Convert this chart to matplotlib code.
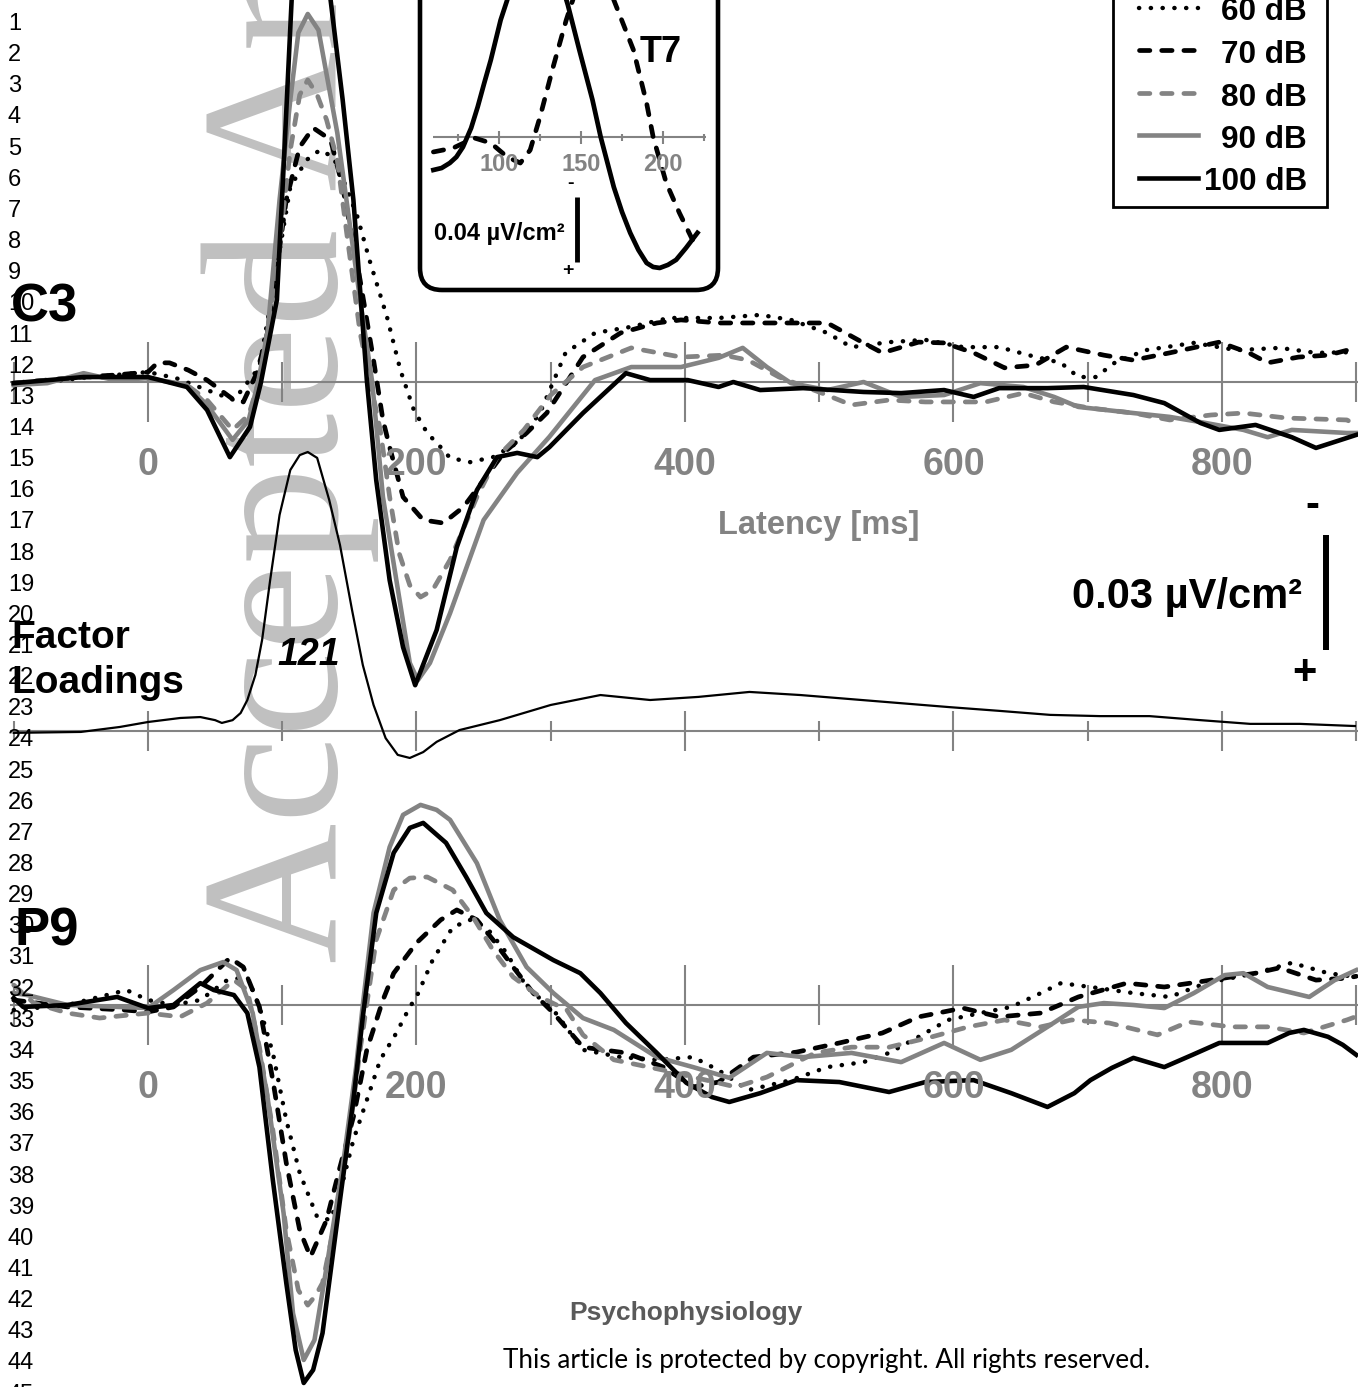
import matplotlib
matplotlib.use("Agg")
import matplotlib.pyplot as plt
from matplotlib import font_manager
from matplotlib.patches import FancyBboxPatch, Rectangle

# ---------------- data (CSD amplitudes in uV/cm^2, latency in ms) ----------------
conditions = ["60 dB", "70 dB", "80 dB", "90 dB", "100 dB"]

c3_t_60 = [-100, -50, 0, 21, 44, 64, 83, 96, 106, 118, 128, 138, 147, 156, 165, 178, 188, 198, 208, 218,
           225, 240, 257, 275, 292, 311, 333, 360, 388, 425, 456, 479, 506, 524, 552, 579, 607, 634, 656,
           680, 693, 706, 720, 743, 779, 811, 843, 870, 900]
c3_v_60 = [0.0008, -0.0010, -0.0026, -0.0010, 0.0021, 0.0047, -0.0039, -0.0300, -0.0509, -0.0579, -0.0605,
           -0.0587, -0.0514, -0.0431, -0.0318, -0.0170, -0.0031, 0.0073, 0.0133, 0.0170, 0.0198, 0.0209,
           0.0196, 0.0159, 0.0081, -0.0076, -0.0128, -0.0144, -0.0167, -0.0167, -0.0175, -0.0162, -0.0128,
           -0.0091, -0.0104, -0.0110, -0.0091, -0.0091, -0.0070, -0.0050, -0.0013, -0.0013, -0.0050,
           -0.0083, -0.0102, -0.0083, -0.0089, -0.0076, -0.0078]

c3_t_70 = [-100, -50, -25, 0, 7, 16, 30, 44, 64, 71, 81, 89, 96, 103, 113, 123, 136, 145, 158, 168, 175,
           180, 190, 205, 220, 235, 250, 265, 282, 297, 324, 352, 379, 397, 425, 447, 479, 506, 533, 547,
           574, 593, 615, 638, 661, 684, 712, 734, 761, 798, 820, 834, 857, 879, 900]
c3_v_70 = [0.0003, -0.0013, -0.0018, -0.0026, -0.0050, -0.0050, -0.0031, -0.0005, 0.0047, 0.0052, -0.0023,
           -0.0128, -0.0300, -0.0475, -0.0613, -0.0663, -0.0632, -0.0509, -0.0266, -0.0057, 0.0099, 0.0170,
           0.0300, 0.0360, 0.0368, 0.0326, 0.0256, 0.0185, 0.0133, 0.0081, -0.0065, -0.0128, -0.0154,
           -0.0162, -0.0154, -0.0154, -0.0154, -0.0154, -0.0102, -0.0076, -0.0104, -0.0102, -0.0076,
           -0.0037, -0.0044, -0.0091, -0.0070, -0.0057, -0.0076, -0.0104, -0.0076, -0.0050, -0.0065,
           -0.0070, -0.0089]

c3_t_80 = [-100, -50, 0, 29, 44, 63, 75, 84, 96, 106, 113, 119, 126, 133, 141, 148, 158, 166, 173, 180,
           187, 195, 203, 212, 225, 245, 260, 280, 300, 324, 360, 397, 429, 447, 470, 502, 524, 552, 579,
           624, 652, 675, 702, 734, 761, 792, 816, 848, 893, 900]
c3_v_80 = [0.0003, -0.0013, -0.0010, 0.0008, 0.0047, 0.0125, 0.0086, -0.0018, -0.0300, -0.0605, -0.0749,
           -0.0788, -0.0749, -0.0684, -0.0579, -0.0389, -0.0128, 0.0008, 0.0125, 0.0300, 0.0446, 0.0530,
           0.0561, 0.0543, 0.0464, 0.0300, 0.0196, 0.0125, 0.0034, -0.0039, -0.0089, -0.0065, -0.0070,
           -0.0057, -0.0013, 0.0029, 0.0060, 0.0047, 0.0052, 0.0052, 0.0029, 0.0052, 0.0068, 0.0081,
           0.0099, 0.0086, 0.0081, 0.0094, 0.0099, 0.0112]

c3_t_90 = [-100, -75, -48, -25, 0, 29, 44, 63, 75, 82, 89, 98, 106, 112, 119, 127, 141, 158, 167, 175,
           185, 195, 201, 210, 225, 250, 275, 299, 333, 360, 397, 425, 443, 461, 479, 506, 533, 561, 593,
           620, 652, 675, 693, 734, 761, 788, 816, 834, 852, 893, 900]
c3_v_90 = [0.0008, 0.0003, -0.0023, -0.0005, -0.0010, 0.0008, 0.0060, 0.0151, 0.0099, 0.0000, -0.0128,
           -0.0475, -0.0736, -0.0911, -0.0960, -0.0918, -0.0650, -0.0214, 0.0000, 0.0300, 0.0517, 0.0733,
           0.0778, 0.0733, 0.0603, 0.0360, 0.0237, 0.0143, -0.0005, -0.0039, -0.0039, -0.0063, -0.0089,
           -0.0039, 0.0003, 0.0021, 0.0000, 0.0039, 0.0034, 0.0003, 0.0013, 0.0039, 0.0065, 0.0081,
           0.0091, 0.0107, 0.0125, 0.0144, 0.0125, 0.0133, 0.0133]

c3_t_100 = [-100, -48, 0, 29, 44, 61, 76, 84, 96, 101, 107, 113, 121, 129, 136, 145, 153, 163, 170, 180,
            190, 199, 215, 230, 245, 260, 275, 290, 299, 324, 356, 374, 402, 425, 436, 456, 488, 533, 561,
            593, 615, 634, 670, 697, 734, 757, 784, 798, 825, 852, 870, 893, 900]
c3_v_100 = [0.0003, -0.0013, -0.0013, 0.0013, 0.0073, 0.0196, 0.0117, 0.0003, -0.0214, -0.0560, -0.0997,
            -0.1120, -0.1160, -0.1120, -0.0997, -0.0736, -0.0475, -0.0005, 0.0256, 0.0517, 0.0692, 0.0791,
            0.0647, 0.0431, 0.0282, 0.0196, 0.0185, 0.0196, 0.0170, 0.0081, -0.0023, -0.0005, -0.0005,
            0.0013, 0.0000, 0.0021, 0.0016, 0.0026, 0.0029, 0.0021, 0.0039, 0.0016, 0.0016, 0.0013,
            0.0034, 0.0055, 0.0107, 0.0125, 0.0112, 0.0144, 0.0172, 0.0146, 0.0138]

# PCA factor loadings of the 121 ms component
fl_t = [-100, -50, -21, 0, 24, 39, 50, 55, 63, 69, 74, 80, 85, 91, 98, 106, 113, 119, 126, 135, 143, 152,
        160, 168, 177, 186, 195, 205, 215, 232, 262, 300, 337, 374, 410, 448, 486, 523, 560, 597, 634, 672,
        709, 746, 784, 821, 858, 899]
fl_v = [-0.006, -0.003, 0.013, 0.029, 0.042, 0.045, 0.035, 0.026, 0.035, 0.058, 0.100, 0.181, 0.294, 0.487,
        0.697, 0.842, 0.890, 0.900, 0.881, 0.745, 0.600, 0.390, 0.213, 0.084, -0.023, -0.077, -0.087,
        -0.068, -0.035, 0.003, 0.035, 0.084, 0.116, 0.100, 0.110, 0.126, 0.116, 0.103, 0.090, 0.077, 0.065,
        0.052, 0.048, 0.048, 0.035, 0.023, 0.023, 0.016]

p9_t_60 = [-100, -60, -16, 0, 19, 39, 59, 74, 83, 93, 103, 113, 126, 136, 143, 153, 163, 173, 185, 195,
           200, 212, 227, 240, 252, 267, 282, 302, 324, 352, 379, 406, 425, 447, 479, 506, 533, 552, 574,
           596, 620, 643, 665, 680, 702, 734, 761, 788, 825, 852, 879, 900]
p9_v_60 = [0.0013, 0.0000, -0.0039, -0.0013, 0.0000, -0.0013, -0.0065, -0.0073, 0.0005, 0.0125, 0.0300,
           0.0438, 0.0553, 0.0561, 0.0490, 0.0352, 0.0248, 0.0143, 0.0073, 0.0005, -0.0021, -0.0117,
           -0.0203, -0.0222, -0.0203, -0.0136, -0.0047, 0.0013, 0.0117, 0.0136, 0.0143, 0.0136, 0.0170,
           0.0222, 0.0196, 0.0162, 0.0149, 0.0125, 0.0083, 0.0039, 0.0021, 0.0005, -0.0031, -0.0057,
           -0.0047, -0.0031, -0.0021, -0.0057, -0.0083, -0.0110, -0.0083, -0.0073]

p9_t_70 = [-100, -60, -18, 0, 19, 39, 61, 71, 83, 93, 103, 113, 121, 133, 143, 153, 163, 175, 183, 200,
           218, 230, 245, 257, 272, 287, 302, 324, 356, 384, 406, 425, 451, 483, 515, 547, 574, 607, 634,
           665, 693, 729, 757, 792, 825, 843, 870, 893, 900]
p9_v_70 = [-0.0013, 0.0005, 0.0013, 0.0018, 0.0005, -0.0047, -0.0123, -0.0099, 0.0005, 0.0196, 0.0412,
           0.0587, 0.0657, 0.0561, 0.0423, 0.0292, 0.0117, -0.0013, -0.0083, -0.0162, -0.0222, -0.0248,
           -0.0222, -0.0170, -0.0099, -0.0031, 0.0021, 0.0110, 0.0125, 0.0162, 0.0214, 0.0201, 0.0136,
           0.0123, 0.0099, 0.0073, 0.0031, 0.0008, 0.0031, 0.0021, -0.0021, -0.0057, -0.0047, -0.0065,
           -0.0083, -0.0097, -0.0065, -0.0070, -0.0075]

p9_t_80 = [-100, -85, -60, -36, 0, 24, 44, 64, 74, 83, 93, 103, 112, 119, 125, 130, 140, 150, 158, 170,
           183, 195, 208, 227, 242, 257, 272, 292, 312, 324, 347, 384, 406, 438, 461, 497, 524, 552, 584,
           611, 638, 665, 688, 716, 752, 775, 807, 834, 861, 893, 900]
p9_v_80 = [-0.0052, -0.0005, 0.0021, 0.0034, 0.0021, 0.0031, -0.0005, -0.0065, -0.0039, 0.0110, 0.0326,
           0.0587, 0.0744, 0.0783, 0.0757, 0.0725, 0.0553, 0.0334, 0.0117, -0.0170, -0.0300, -0.0331,
           -0.0334, -0.0300, -0.0230, -0.0143, -0.0073, -0.0021, 0.0013, 0.0078, 0.0143, 0.0170, 0.0188,
           0.0214, 0.0188, 0.0125, 0.0110, 0.0110, 0.0083, 0.0057, 0.0039, 0.0057, 0.0039, 0.0047, 0.0078,
           0.0044, 0.0057, 0.0057, 0.0073, 0.0039, 0.0030]

p9_t_90 = [-100, -90, -60, 0, 19, 39, 56, 66, 78, 89, 101, 108, 116, 124, 133, 145, 155, 160, 168, 180,
           190, 203, 215, 225, 245, 262, 282, 302, 324, 347, 379, 406, 433, 461, 488, 524, 561, 593, 620,
           643, 670, 693, 712, 734, 757, 779, 802, 816, 834, 865, 884, 900]
p9_v_90 = [-0.0031, -0.0026, 0.0000, 0.0008, -0.0039, -0.0091, -0.0112, -0.0091, 0.0021, 0.0240, 0.0543,
           0.0804, 0.0926, 0.0874, 0.0684, 0.0423, 0.0162, 0.0000, -0.0240, -0.0412, -0.0496, -0.0522,
           -0.0509, -0.0483, -0.0370, -0.0222, -0.0099, -0.0031, 0.0034, 0.0065, 0.0136, 0.0162, 0.0190,
           0.0125, 0.0136, 0.0125, 0.0149, 0.0099, 0.0143, 0.0117, 0.0057, 0.0005, -0.0005, 0.0000, 0.0008,
           -0.0031, -0.0078, -0.0083, -0.0047, -0.0021, -0.0065, -0.0091]

p9_t_100 = [-100, -93, -60, -23, 0, 19, 39, 49, 64, 74, 83, 93, 103, 110, 116, 123, 130, 143, 153, 160,
            170, 183, 195, 205, 222, 237, 252, 272, 302, 322, 337, 356, 379, 401, 420, 433, 456, 483, 515,
            552, 579, 615, 643, 670, 690, 702, 718, 734, 757, 778, 798, 815, 834, 850, 861, 879, 890, 900]
p9_v_100 = [-0.0018, 0.0005, 0.0000, -0.0021, 0.0008, 0.0000, -0.0057, -0.0039, -0.0026, 0.0021, 0.0162,
            0.0457, 0.0725, 0.0900, 0.0986, 0.0952, 0.0856, 0.0509, 0.0248, 0.0031, -0.0240, -0.0397,
            -0.0462, -0.0475, -0.0423, -0.0334, -0.0240, -0.0177, -0.0117, -0.0083, -0.0031, 0.0047,
            0.0125, 0.0203, 0.0240, 0.0253, 0.0230, 0.0196, 0.0201, 0.0227, 0.0201, 0.0196, 0.0230, 0.0266,
            0.0230, 0.0196, 0.0164, 0.0138, 0.0162, 0.0130, 0.0099, 0.0099, 0.0099, 0.0073, 0.0065, 0.0083,
            0.0104, 0.0130]

# inset: T7, zoomed 60-225 ms
t7_t_solid = [60, 65, 70, 74, 78, 83, 87, 91, 95, 101, 105, 112, 120, 128, 135, 142, 149, 157, 162, 170,
              175, 180, 185, 190, 194, 198, 203, 208, 214, 221]
t7_v_solid = [0.0203, 0.0191, 0.0160, 0.0123, 0.0062, -0.0055, -0.0185, -0.0332, -0.0474, -0.0720,
              -0.0843, -0.1150, -0.1300, -0.1250, -0.1050, -0.0812, -0.0535, -0.0228, 0.0000, 0.0308,
              0.0461, 0.0590, 0.0695, 0.0775, 0.0800, 0.0806, 0.0787, 0.0756, 0.0683, 0.0590]
t7_t_dash = [60, 72, 85, 95, 105, 113, 119, 125, 133, 141, 145, 152, 158, 164, 170, 182, 190, 194, 202,
             210, 218]
t7_v_dash = [0.0092, 0.0068, 0.0006, 0.0037, 0.0123, 0.0160, 0.0080, -0.0123, -0.0431, -0.0720, -0.0843,
             -0.1100, -0.1150, -0.1050, -0.0843, -0.0535, -0.0209, 0.0000, 0.0283, 0.0467, 0.0633]

major_ticks = [0, 200, 400, 600, 800]
minor_ticks = [-100, 100, 300, 500, 700, 900]
tick_labels = ["0", "200", "400", "600", "800"]
inset_major = [100, 150, 200]
inset_minor = [75, 125, 175, 225]
inset_labels = ["100", "150", "200"]

# ---------------- layout ----------------
W, H, DPI = 1358, 1387, 100
fig = plt.figure(figsize=(W / DPI, H / DPI), dpi=DPI)

names = {f.name for f in font_manager.fontManager.ttflist}
SANS = "Liberation Sans" if "Liberation Sans" in names else "DejaVu Sans"
SERIF = "Liberation Serif" if "Liberation Serif" in names else "DejaVu Serif"
FOOT = "Lato" if "Lato" in names else SANS
# the legend and axis title use Arial Narrow in the original
if "Liberation Sans Narrow" in names:
    NARROW, NARROW_SCALE = "Liberation Sans Narrow", 1.0
else:
    NARROW, NARROW_SCALE = SANS, 0.84

GRAY = "#838383"
K = 115 / 0.03          # px per uV/cm^2 in the main panels
PX_MS = 1.3425          # px per ms in the main panels


def overlay(x0_px, px_per_x, y0_px, px_per_y, down_positive=True):
    # full-figure transparent axes whose data scale maps onto the page pixels
    ax = fig.add_axes([0, 0, 1, 1])
    ax.patch.set_alpha(0)
    ax.set_xlim(-x0_px / px_per_x, (W - x0_px) / px_per_x)
    top = -y0_px / px_per_y
    bottom = (H - y0_px) / px_per_y
    if down_positive:
        ax.set_ylim(bottom, top)
    else:
        ax.set_ylim(-bottom, -top)
    ax.axis("off")
    return ax


def draw_axis(ax, k, major, minor, half_major, half_minor, x_from, x_to):
    ax.plot([x_from, x_to], [0, 0], color=GRAY, lw=1.5, solid_capstyle="butt")
    ax.vlines(major, -half_major / k, half_major / k, color=GRAY, lw=1.5)
    ax.vlines(minor, -half_minor / k, half_minor / k, color=GRAY, lw=1.5)


joins = dict(solid_joinstyle="round", dash_joinstyle="round")
styles = {
    "60 dB": dict(color="black", lw=3.2, linestyle=(0, (0.05, 2.6)), dash_capstyle="round", **joins),
    "70 dB": dict(color="black", lw=3.4, linestyle=(0, (2.2, 2.5)), dash_capstyle="round", **joins),
    "80 dB": dict(color=GRAY, lw=3.4, linestyle=(0, (2.2, 2.5)), dash_capstyle="round", **joins),
    "90 dB": dict(color=GRAY, lw=3.3, linestyle="-", **joins),
    "100 dB": dict(color="black", lw=3.3, linestyle="-", **joins),
}

# background: watermark
bg = overlay(0, 1, 0, 1)
bg.text(337, 963, "Accepted Article", rotation=90, rotation_mode="anchor", ha="left", va="baseline",
        fontsize=140, family=SERIF, color="#c0c0c0")

# C3 panel
ax_c3 = overlay(148, PX_MS, 382, K)
draw_axis(ax_c3, K, major_ticks, minor_ticks, 40, 20, -103, 905)
c3 = [(c3_t_60, c3_v_60), (c3_t_70, c3_v_70), (c3_t_80, c3_v_80), (c3_t_90, c3_v_90), (c3_t_100, c3_v_100)]
for cond, (t, v) in zip(conditions, c3):
    ax_c3.plot(t, v, **styles[cond])
for t, lab in zip(major_ticks, tick_labels):
    ax_c3.text(t, (475 - 382) / K, lab, ha="center", va="baseline", fontsize=27, fontweight="bold",
               family=SANS, color=GRAY)
ax_c3.text(500, (534 - 382) / K, "Latency [ms]", ha="center", va="baseline", fontsize=28 * NARROW_SCALE,
           fontweight="bold", family=NARROW, color=GRAY)
# amplitude scale bar
ax_c3.plot([877.5, 877.5], [(535 - 382) / K, (535 - 382) / K + 0.03], color="black", lw=4.3,
           solid_capstyle="butt")

# factor loadings
ax_fl = overlay(148, PX_MS, 731, 310, down_positive=False)
draw_axis(ax_fl, 310, major_ticks, minor_ticks, 20, 10, -103, 905)
ax_fl.plot(fl_t, fl_v, color="black", lw=1.6, solid_joinstyle="round")
ax_fl.text(120, (731 - 665) / 310, "121", ha="center", va="baseline", fontsize=27, fontweight="bold",
           fontstyle="italic", family=SANS, color="black")

# P9 panel
ax_p9 = overlay(148, PX_MS, 1005, K)
draw_axis(ax_p9, K, major_ticks, minor_ticks, 40, 20, -103, 905)
p9 = [(p9_t_60, p9_v_60), (p9_t_70, p9_v_70), (p9_t_80, p9_v_80), (p9_t_90, p9_v_90), (p9_t_100, p9_v_100)]
for cond, (t, v) in zip(conditions, p9):
    ax_p9.plot(t, v, **styles[cond])
for t, lab in zip(major_ticks, tick_labels):
    ax_p9.text(t, (1098 - 1005) / K, lab, ha="center", va="baseline", fontsize=27, fontweight="bold",
               family=SANS, color=GRAY)

# inset T7
K7 = 65 / 0.04
ax_t7 = overlay(335, 1.64, 137, K7)
draw_axis(ax_t7, K7, inset_major, inset_minor, 6.5, 3.5, 59.5, 226)
ax_t7.plot(t7_t_dash, t7_v_dash, **styles["70 dB"])
ax_t7.plot(t7_t_solid, t7_v_solid, color="black", lw=3.4, solid_joinstyle="round")
for t, lab in zip(inset_major, inset_labels):
    ax_t7.text(t, (171 - 137) / K7, lab, ha="center", va="baseline", fontsize=17, fontweight="bold",
               family=SANS, color=GRAY)
ax_t7.plot([147.6, 147.6], [(197 - 137) / K7, (197 - 137) / K7 + 0.04], color="black", lw=3.5,
           solid_capstyle="butt")

# foreground: frames, labels, legend, line numbers
fg = overlay(0, 1, 0, 1)
fg.add_patch(FancyBboxPatch((420, -60), 298, 350, boxstyle="round,pad=0,rounding_size=22",
                            fill=False, lw=3.3, ec="black"))
fg.text(661, 62, "T7", ha="center", va="baseline", fontsize=26, fontweight="bold", family=SANS)
fg.text(565, 240, "0.04 µV/cm²", ha="right", va="baseline", fontsize=17, fontweight="bold", family=SANS)
fg.text(570, 184, "-", ha="center", va="center", fontsize=14, fontweight="bold", family=SANS)
fg.text(568, 271, "+", ha="center", va="center", fontsize=14, fontweight="bold", family=SANS)

fg.text(1302, 608, "0.03 µV/cm²", ha="right", va="baseline", fontsize=30, fontweight="bold", family=SANS)
fg.text(1312, 506, "-", ha="center", va="center", fontsize=30, fontweight="bold", family=SANS)
fg.text(1304, 673, "+", ha="center", va="center", fontsize=30, fontweight="bold", family=SANS)

fg.text(11, 322, "C3", ha="left", va="baseline", fontsize=38, fontweight="bold", family=SANS)
fg.text(15, 945, "P9", ha="left", va="baseline", fontsize=38, fontweight="bold", family=SANS)
fg.text(11, 648, "Factor", ha="left", va="baseline", fontsize=28, fontweight="bold", family=SANS)
fg.text(11, 693, "Loadings", ha="left", va="baseline", fontsize=28, fontweight="bold", family=SANS)

# legend
fg.add_patch(Rectangle((1113, -20), 214, 227, fill=False, lw=2, ec="black"))
for i, cond in enumerate(conditions):
    base = 20.5 + 42.5 * i
    fg.plot([1139, 1198], [base - 13, base - 13], **styles[cond])
    fg.text(1307, base, cond, ha="right", va="baseline", fontsize=27 * NARROW_SCALE, fontweight="bold",
            family=NARROW)

# manuscript line numbers
line_numbers = list(range(1, 46))
for i, n in enumerate(line_numbers):
    fg.text(8, 22 + 31.15 * i + 8, str(n), ha="left", va="baseline", fontsize=17, family=SANS)

fg.text(686, 1320, "Psychophysiology", ha="center", va="baseline", fontsize=19, fontweight="bold",
        family=SANS, color="#5a5a5a")
fg.text(827, 1368, "This article is protected by copyright. All rights reserved.", ha="center",
        va="baseline", fontsize=18.8, family=FOOT, color="black")

fig.savefig("out.png", dpi=DPI)
